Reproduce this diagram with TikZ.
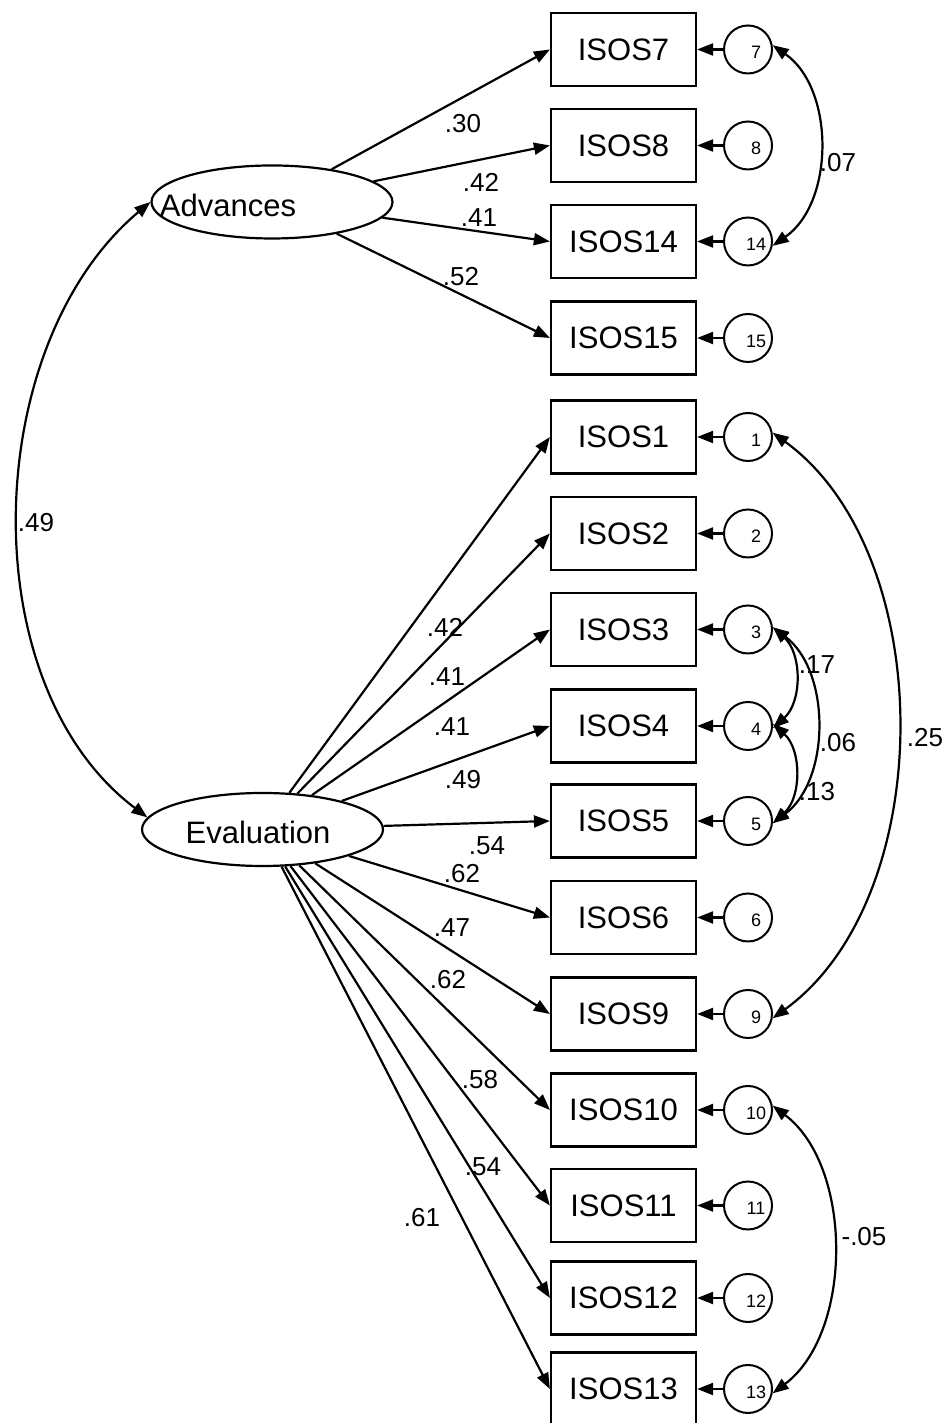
\documentclass[tikz,border=0pt]{standalone}
\usepackage{fontspec}
\setmainfont{Liberation Sans}
\usetikzlibrary{shapes.geometric,arrows.meta}
\newcommand\myitem[4]{%
  \node[obsbox] (#1) at (623.5,#3) {#2};
  \node[errc] (e#4) at (748,#3) {};
  \node[errtxt] at (756,#3-3) {#4};
  \draw[load] (e#4) -- (#1);
}
\begin{document}
\begin{tikzpicture}[x=1pt,y=1pt,
  obsbox/.style={draw, line width=2.2pt, minimum width=145pt, minimum height=73pt, inner sep=0pt, font=\fontsize{31}{31}\selectfont},
  errc/.style={draw, circle, line width=2pt, minimum size=48pt, inner sep=0pt},
  errtxt/.style={font=\fontsize{18}{18}\selectfont, inner sep=0pt},
  lat/.style={draw, ellipse, line width=2.2pt, minimum width=241pt, minimum height=73pt, inner sep=0pt},
  lattxt/.style={font=\fontsize{31}{31}\selectfont, inner sep=0pt},
  coef/.style={font=\fontsize{26}{26}\selectfont, inner sep=0pt},
  load/.style={line width=2.2pt, -{Triangle[length=16pt,width=12pt]}},
  cov/.style={line width=2.2pt, {Triangle[length=16pt,width=12pt]}-{Triangle[length=16pt,width=12pt]}}
]
\useasboundingbox (0,0) rectangle (947,1423);

% latent variables
\node[lat] (adv) at (272,1221) {};
\node[lattxt] (advtxt) at (228,1218) {Advances};
\node[lat] (eval) at (262.5,593.5) {};
\node[lattxt] (evaltxt) at (258,591) {Evaluation};

% observed variables with errors
\myitem{i7}{ISOS7}{1373.5}{7}
\myitem{i8}{ISOS8}{1277.5}{8}
\myitem{i14}{ISOS14}{1181.5}{14}
\myitem{i15}{ISOS15}{1085}{15}
\myitem{i1}{ISOS1}{986}{1}
\myitem{i2}{ISOS2}{889.5}{2}
\myitem{i3}{ISOS3}{793.5}{3}
\myitem{i4}{ISOS4}{697}{4}
\myitem{i5}{ISOS5}{602}{5}
\myitem{i6}{ISOS6}{505.5}{6}
\myitem{i9}{ISOS9}{409}{9}
\myitem{i10}{ISOS10}{313}{10}
\myitem{i11}{ISOS11}{217.5}{11}
\myitem{i12}{ISOS12}{125}{12}
\myitem{i13}{ISOS13}{34}{13}

% loadings
\foreach \t in {i7,i8,i14,i15} \draw[load] (adv) -- (\t.west);
\foreach \t in {i1,i2,i3,i4,i5,i6,i9,i10,i11,i12,i13} \draw[load] (eval) -- (\t.west);

\node[coef] (l7) at (463,1299) {.30};
\node[coef] (l8) at (481,1241) {.42};
\node[coef] (l14) at (479,1205) {.41};
\node[coef] (l15) at (461,1146) {.52};

\node[coef] (l1) at (445,796) {.42};
\node[coef] (l2) at (447,746) {.41};
\node[coef] (l3) at (452,696) {.41};
\node[coef] (l4) at (463,643) {.49};
\node[coef] (l5) at (487,577) {.54};
\node[coef] (l6) at (462,549) {.62};
\node[coef] (l9) at (452,495) {.47};
\node[coef] (l10) at (448,443) {.62};
\node[coef] (l11) at (480,343) {.58};
\node[coef] (l12) at (483,256) {.54};
\node[coef] (l13) at (422,205) {.61};

% covariances
\draw[cov] (adv.west) to[out=220,in=143,looseness=0.92] (eval.174);
\node[coef] (c1) at (36,900) {.49};

\draw[cov] (e7.10) to[out=-35,in=35,looseness=0.97] (e14.-10);
\node[coef] (c2) at (838,1260) {.07};

\draw[cov] (e1.10) to[out=-36,in=36,looseness=0.9] (e9.-10);
\node[coef] (c3) at (925,685) {.25};

\draw[cov] (e3.5) to[out=-42,in=42] (e4.-5);
\node[coef] (c4) at (817,758) {.17};
\draw[cov] (e4.5) to[out=-42,in=42] (e5.-5);
\node[coef] (c5) at (817,631) {.13};
\draw[cov] (e3.5) to[out=-37,in=37,looseness=0.95] (e5.-5);
\node[coef] (c6) at (838,680) {.06};

\draw[cov] (e10.10) to[out=-37,in=37,looseness=0.9] (e13.-10);
\node[coef] (c7) at (864,186) {-.05};
\end{tikzpicture}
\end{document}
